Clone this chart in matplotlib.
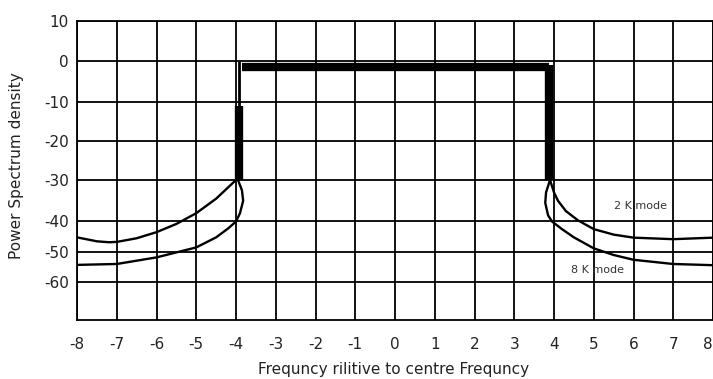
import numpy as np
import matplotlib.pyplot as plt

plt.rcParams["axes.unicode_minus"] = False

# y axis is drawn with unequal spacing between the decades
y_levels = [-70, -60, -50, -40, -30, -20, -10, 0, 10]
y_pos = [0, 38, 68, 98.5, 140, 179, 218, 259, 299]

# spectrum mask (thick outline)
mask_thin_x = [-3.93, -3.93]
mask_thin_y = [0, -11]
mask_left_x = [-3.93, -3.93]
mask_left_y = [-11, -30]
mask_top_x = [-3.86, 3.88]
mask_top_y = [-1.5, -1.5]
mask_right_x = [3.88, 3.88]
mask_right_y = [-1.0, -30]

# 2K mode shoulders
k2_left_x = [-8, -7.5, -7.2, -7, -6.5, -6, -5.5, -5, -4.5, -4.2, -4.0]
k2_left_y = [-45.2, -46.5, -46.8, -46.7, -45.5, -43.5, -40.8, -38, -34.5, -31.8, -30]
k2_right_x = [3.9, 4.0, 4.1, 4.3, 4.6, 5, 5.5, 6, 7, 8]
k2_right_y = [-30, -33, -35, -37.5, -39.7, -42.5, -44.3, -45.3, -45.8, -45.3]

# 8K mode shoulders
k8_left_x = [-8, -7, -6, -5.7, -5, -4.5, -4.2, -4.0, -3.9, -3.82, -3.85, -3.95]
k8_left_y = [-54.3, -54, -51.8, -50.8, -48.5, -45.2, -42.3, -40, -38, -35, -32.5, -30]
k8_right_x = [3.9, 3.8, 3.78, 3.85, 3.95, 4.2, 4.5, 5, 5.5, 6, 7, 8]
k8_right_y = [-30, -33, -35.5, -38.5, -40, -42.5, -45.2, -48.8, -51, -52.6, -54, -54.4]

x_ticks = list(range(-8, 9))
y_ticks = [10, 0, -10, -20, -30, -40, -50, -60]


def fwd(v):
    return np.interp(v, y_levels, y_pos)


def inv(p):
    return np.interp(p, y_pos, y_levels)


fig = plt.figure(figsize=(7.13, 3.79), dpi=100)
ax = fig.add_axes([0.108, 0.1557, 0.892, 0.7889])
ax.set_yscale("function", functions=(fwd, inv))

ax.plot(mask_thin_x, mask_thin_y, color="black", lw=2, solid_capstyle="butt")
ax.plot(mask_left_x, mask_left_y, color="black", lw=6, solid_capstyle="butt")
ax.plot(mask_top_x, mask_top_y, color="black", lw=6, solid_capstyle="butt")
ax.plot(mask_right_x, mask_right_y, color="black", lw=6, solid_capstyle="butt")

for xs, ys in [(k2_left_x, k2_left_y), (k2_right_x, k2_right_y),
               (k8_left_x, k8_left_y), (k8_right_x, k8_right_y)]:
    ax.plot(xs, ys, color="black", lw=1.7)

ax.text(6.18, -36.3, "2 K mode", fontsize=8, ha="center", va="center", color="#333333")
ax.text(5.1, -56, "8 K mode", fontsize=8, ha="center", va="center", color="#333333")

ax.set_xlim(-8, 8)
ax.set_ylim(-70, 10)
ax.set_xticks(x_ticks)
ax.set_yticks(y_ticks)
ax.tick_params(axis="both", length=0, labelsize=11, colors="#222222")
ax.tick_params(axis="x", pad=12)
ax.tick_params(axis="y", pad=6)
ax.grid(True, color="black", lw=1.3)
for s in ax.spines.values():
    s.set_linewidth(1.3)

# last tick sits on the figure edge, keep its label inside
ax.get_xticklabels()[-1].set_ha("right")

ax.set_xlabel("Frequncy rilitive to centre Frequncy", fontsize=11, color="#222222")
ax.set_ylabel("Power Spectrum density", fontsize=11, color="#222222")
ax.xaxis.set_label_coords(0.498, -0.14)
ax.yaxis.set_label_coords(-0.083, 0.515)

plt.savefig("out.png", dpi=100)
